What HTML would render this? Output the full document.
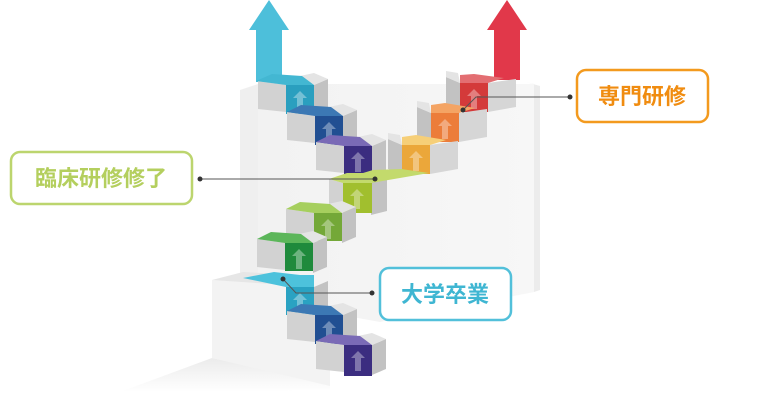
<!DOCTYPE html>
<html><head><meta charset="utf-8"><style>
html,body{margin:0;padding:0;background:#fff;width:776px;height:406px;overflow:hidden}
svg{display:block}
.lbl{font-family:"Liberation Sans","Noto Sans CJK JP",sans-serif;font-weight:bold;font-size:22px}
</style></head><body>
<svg width="776" height="406" viewBox="0 0 776 406" xmlns="http://www.w3.org/2000/svg">
<defs>
<linearGradient id="sh" x1="0" y1="0" x2="0" y2="1"><stop offset="0" stop-color="#ebebeb"/><stop offset="1" stop-color="#fff"/></linearGradient>
<linearGradient id="wl" x1="0" y1="0" x2="1" y2="0"><stop offset="0" stop-color="#f2f2f2"/><stop offset="1" stop-color="#f7f7f7"/></linearGradient>
<g id="ar"><polygon points="14,6 21,13 17,13 17,26 11,26 11,13 7,13" fill="#fff" opacity="0.35"/></g>
<g id="stL">
<polygon points="-28,-4 0,0 0,27 -28,24" fill="#d2d2d2"/>
<polygon points="28,0 42,-6 42,24 28,30" fill="#c2c2c2"/>
<polygon points="28,0 42,-6 28,-12 14,-9" fill="#e4e4e4"/>
</g>
<g id="stR">
<polygon points="-14,-6 0,0 0,29 -14,24" fill="#c2c2c2"/>
<polygon points="28,0 56,-4 56,24 28,29" fill="#d6d6d6"/>
<polygon points="-14,-6 0,0 -2,-10 -14,-12" fill="#e4e4e4"/>
</g>
</defs>
<!-- shadows -->
<polygon points="120,392 330,390 330,384 212,358" fill="url(#sh)"/>
<!-- back wall -->
<polygon points="240,90 258,84 258,300 240,300" fill="#efefef"/>
<polygon points="258,84 534,84 534,292 380,322 258,300" fill="url(#wl)"/>
<polygon points="526,82 540,86 540,290 534,292 534,84" fill="#ececec"/>
<!-- lower wall -->
<polygon points="212,280 330,286 330,386 212,358" fill="#f3f3f3"/>
<polygon points="212,280 243,272 300,275 286,284 330,288" fill="#e6e6e6"/>

<!-- arrows -->
<polygon points="269,0 289,30 282,30 282,82 256,82 256,30 249,30" fill="#4dbfda"/>
<polygon points="507,0 527,30 520,30 520,80 494,80 494,30 487,30" fill="#e1384a"/>

<!-- LEFT UPPER STAIRS -->
<g transform="translate(286,85)"><use href="#stL"/><polygon points="0,0 28,0 16,-9 -14,-11 -30,-4" fill="#43b7d2"/><rect width="28" height="29" fill="#2a9fbf"/><use href="#ar"/></g>
<g transform="translate(315,116)"><use href="#stL"/><polygon points="0,0 28,0 16,-9 -14,-11 -28,-4" fill="#3c78b4"/><rect width="28" height="29" fill="#214f92"/><use href="#ar"/></g>
<g transform="translate(344,146)"><use href="#stL"/><polygon points="0,0 28,0 16,-9 -14,-11 -28,-4" fill="#7a6ab6"/><rect width="28" height="29" fill="#3b2d80"/><use href="#ar"/></g>

<!-- RIGHT UPPER STAIRS -->
<g transform="translate(460,83)"><use href="#stR"/><polygon points="0,0 28,0 44,-5 14,-9 0,-8" fill="#e36e72"/><rect width="28" height="29" fill="#d43a3a"/><use href="#ar"/></g>
<g transform="translate(431,113)"><use href="#stR"/><polygon points="0,0 28,0 44,-5 14,-10 0,-8" fill="#f4a464"/><rect width="28" height="29" fill="#ec7d3a"/><use href="#ar"/></g>
<g transform="translate(402,145)"><use href="#stR"/><polygon points="0,0 28,0 44,-5 14,-10 0,-8" fill="#f6cf78"/><rect width="28" height="29" fill="#eba73a"/><use href="#ar"/></g>

<!-- junction -->
<g transform="translate(343,183)"><polygon points="-14,-4 0,0 0,28 -14,26" fill="#d2d2d2"/><polygon points="28,0 44,-5 44,28 28,32" fill="#c2c2c2"/><polygon points="-14,-4 4,-10 20,-10 30,-13 58,-14 86,-10 28,0 0,0" fill="#c3da6c"/><rect width="29" height="30" fill="#a1bf2e"/><use href="#ar"/></g>

<!-- LOWER MID STAIRS -->
<g transform="translate(314,213)"><use href="#stL"/><polygon points="0,0 28,0 16,-9 -14,-11 -28,-4" fill="#a6cf5e"/><rect width="28" height="28" fill="#74a838"/><use href="#ar"/></g>
<g transform="translate(285,243)"><use href="#stL"/><polygon points="0,0 28,0 16,-9 -14,-11 -28,-4" fill="#5cb65a"/><rect width="28" height="28" fill="#1f8a3c"/><use href="#ar"/></g>

<!-- BOTTOM STAIRS -->
<g transform="translate(286,287)"><polygon points="28,0 42,-6 42,24 28,30" fill="#c2c2c2"/><polygon points="-43,-9 -12,-15 14,-12 28,-12 28,0 0,0" fill="#4dc2dc"/><rect width="28" height="28" fill="#2aa2c2"/><use href="#ar"/></g>
<g transform="translate(315,315)"><use href="#stL"/><polygon points="0,0 28,0 16,-9 -14,-11 -28,-4" fill="#3c78b4"/><rect width="28" height="29" fill="#214f92"/><use href="#ar"/></g>
<g transform="translate(344,345)"><use href="#stL"/><polygon points="0,0 28,0 16,-9 -14,-11 -28,-4" fill="#7a6ab6"/><rect width="28" height="31" fill="#3b2d80"/><use href="#ar"/></g>

<!-- connector lines -->
<g stroke="#555" stroke-width="1" fill="none">
<polyline points="200,179 375,179"/>
<polyline points="570,97 476,97 463,110"/>
<polyline points="372,293 296,293 283,279"/>
</g>
<g fill="#333">
<circle cx="200" cy="179" r="2.5"/><circle cx="375" cy="179" r="2.5"/>
<circle cx="570" cy="97" r="2.5"/><circle cx="463" cy="110" r="2.5"/>
<circle cx="372" cy="293" r="2.5"/><circle cx="283" cy="279" r="2.5"/>
</g>

<!-- labels -->
<rect x="11" y="152" width="181" height="52" rx="9" fill="#fff" stroke="#bcd56e" stroke-width="2.5"/>
<text class="lbl" x="101" y="186" text-anchor="middle" fill="#b4cf5e">臨床研修修了</text>
<rect x="577" y="70" width="131" height="52" rx="9" fill="#fff" stroke="#f39a1e" stroke-width="2.5"/>
<text class="lbl" x="642" y="104" text-anchor="middle" fill="#f08c10">専門研修</text>
<rect x="380" y="268" width="131" height="52" rx="9" fill="#fff" stroke="#52c0da" stroke-width="2.5"/>
<text class="lbl" x="445" y="302" text-anchor="middle" fill="#3fb6d2">大学卒業</text>
</svg>
</body></html>
